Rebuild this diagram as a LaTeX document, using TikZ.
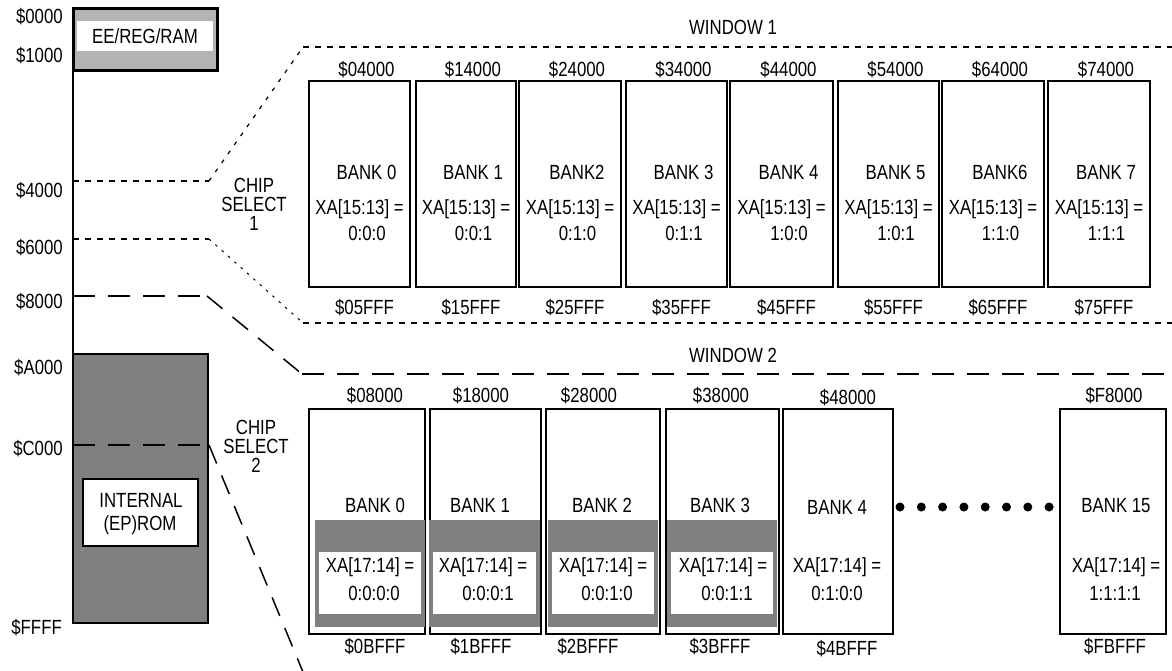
\documentclass[tikz,border=0pt]{standalone}
\usepackage{fontspec}
\setmainfont[FakeStretch=0.82]{Liberation Sans}
\definecolor{grayA}{HTML}{B3B3B3}
\definecolor{grayB}{HTML}{808080}
\newcommand\dgfs{\fontsize{20.5}{20}\selectfont}
\begin{document}
\begin{tikzpicture}[x=1pt,y=-1pt,
  txt/.style={inner sep=0pt,font=\dgfs,text height=14.6pt,text depth=0pt},
  addr/.style={txt,anchor=east},
  cstxt/.style={inner sep=0pt,align=center,anchor=north,font=\fontsize{20.5}{19}\selectfont},
  bankbox/.style={draw,line width=2pt},
  fine/.style={line width=1.5pt,dash pattern=on 6pt off 6pt},
  finediag/.style={line width=1.2pt,dash pattern=on 4pt off 7pt},
  finerdiag/.style={line width=1pt,dash pattern=on 2.5pt off 6pt},
  longdash/.style={line width=2pt,dash pattern=on 22pt off 13pt},
  longdiag/.style={line width=1.5pt,dash pattern=on 20pt off 13pt},
]
\useasboundingbox (0,0) rectangle (1172,670);

% ---- memory map (left) ----
\draw[line width=3pt, fill=grayA] (73,8) rectangle (217,70);
\fill[white] (77,21) rectangle (213,51);
\node[txt] (ee) at (145,36) {EE/REG/RAM};
\draw[line width=2pt] (73,70) -- (73,354);
\draw[line width=2pt, fill=grayB] (73,354) rectangle (208,623);
\draw[line width=2pt, fill=white] (83,479) rectangle (198,546);
\node[txt] (rom1) at (141,500) {INTERNAL};
\node[txt] (rom2) at (140,523) {(EP)ROM};

\node[addr] (a0000) at (63,16) {\$0000};
\node[addr] (a1000) at (63,55) {\$1000};
\node[addr] (a4000) at (63,190) {\$4000};
\node[addr] (a6000) at (63,247) {\$6000};
\node[addr] (a8000) at (63,301) {\$8000};
\node[addr] (aA000) at (63,367) {\$A000};
\node[addr] (aC000) at (63,448) {\$C000};
\node[addr] (aFFFF) at (62,627) {\$FFFF};

% ---- chip select labels ----
\node[cstxt] (cs1) at (254,178) {CHIP\\SELECT\\1};
\node[cstxt] (cs2) at (256,420) {CHIP\\SELECT\\2};

% ---- window boundaries ----
\coordinate (m4) at (73,181);  \coordinate (e4) at (209,181);
\coordinate (w1a) at (303,47); \coordinate (w1b) at (1172,47);
\coordinate (m6) at (73,239);  \coordinate (e6) at (209,239);
\coordinate (w1c) at (303,323); \coordinate (w1d) at (1172,323);
\coordinate (m8) at (73,296);  \coordinate (e8) at (207,296);
\coordinate (w2a) at (302,374); \coordinate (w2b) at (1172,374);
\coordinate (mC) at (73,445);  \coordinate (eC) at (209,445);
\coordinate (endC) at (303,672);

\draw[fine] (m4) -- (e4);
\draw[finediag] (e4) -- (w1a);
\draw[fine] (w1a) -- (w1b);
\draw[fine] (m6) -- (e6);
\draw[finerdiag] (e6) -- (w1c);
\draw[fine] (w1c) -- (w1d);
\draw[longdash] (m8) -- (e8);
\draw[longdiag] (e8) -- (w2a);
\draw[longdash] (w2a) -- (w2b);
\draw[longdash] (mC) -- (eC);
\draw[longdiag] (eC) -- (endC);

\node[txt] (win1) at (733,27) {WINDOW 1};
\node[txt] (win2) at (733,355) {WINDOW 2};

% ---- window 1 banks ----
\foreach \i/\l/\r/\ta/\ba/\bn/\va in {
 0/309/410/04000/05FFF/BANK 0/0:0:0,
 1/416/516/14000/15FFF/BANK 1/0:0:1,
 2/519/621/24000/25FFF/BANK2/0:1:0,
 3/626/727/34000/35FFF/BANK 3/0:1:1,
 4/730/833/44000/45FFF/BANK 4/1:0:0,
 5/838/939/54000/55FFF/BANK 5/1:0:1,
 6/942/1044/64000/65FFF/BANK6/1:1:0,
 7/1048/1150/74000/75FFF/BANK 7/1:1:1}{
  \pgfmathsetmacro\cx{(\l+\r)/2}
  \draw[bankbox] (\l,81) rectangle (\r,287);
  \node[txt] (wa\i) at (\cx+7,69) {\$\ta};
  \node[txt] (wn\i) at (\cx+7,172) {\bn};
  \node[txt] (wx\i) at (\cx,207) {XA[15:13] =};
  \node[txt] (wv\i) at (\cx+7.5,233) {\va};
  \node[txt] (wb\i) at (\cx+5,307) {\$\ba};
}

% ---- window 2 banks ----
\foreach \i/\l/\r in {0/309/425, 1/430/541, 2/546/660, 3/666/779, 4/783/893, 15/1060/1166}{
  \draw[bankbox] (\l,409) rectangle (\r,634);
}
\foreach \i/\gl/\gr in {0/315/425, 1/429/540, 2/548/658, 3/667/777}{
  \fill[grayB] (\gl,520) rectangle (\gr,627);
  \fill[white] (\gl+4,552) rectangle (\gr-4,614);
}
\foreach \i/\ta/\ba/\va/\tx/\bx/\xx/\vx/\btx/\dy in {
 0/08000/0BFFF/0:0:0:0/375/375/370/374/375/0,
 1/18000/1BFFF/0:0:0:1/481/480/483/488/481/0,
 2/28000/2BFFF/0:0:1:0/589/602/603/607/588/0,
 3/38000/3BFFF/0:0:1:1/721/720/723/727/720/0,
 4/48000/4BFFF/0:1:0:0/848/837/837/837/847/2,
 15/F8000/FBFFF/1:1:1:1/1114/1116/1116/1115/1115/0}{
  \node[txt] (va\i) at (\tx,395+\dy) {\$\ta};
  \node[txt] (vn\i) at (\bx,505+\dy) {BANK \i};
  \node[txt] (vx\i) at (\xx,565) {XA[17:14] =};
  \node[txt] (vv\i) at (\vx,593) {\va};
  \node[txt] (vb\i) at (\btx,646+\dy) {\$\ba};
}
\foreach \k in {0,...,7}{
  \fill (900+21.3*\k,507) circle (4.5pt);
}
\end{tikzpicture}
\end{document}
